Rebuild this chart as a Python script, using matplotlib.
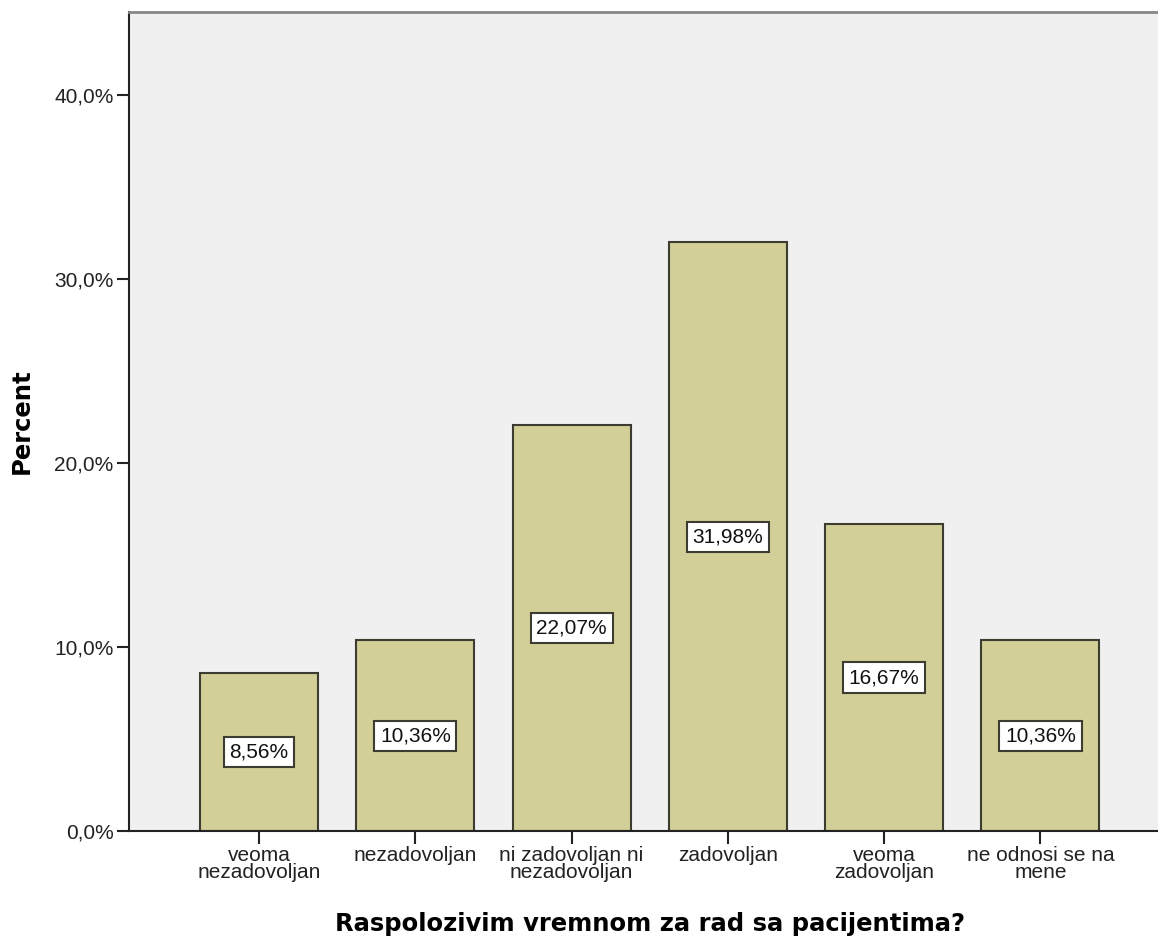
import numpy as np
from matplotlib import pyplot as plt

categories = ['veoma\nnezadovoljan', 'nezadovoljan', 'ni zadovoljan ni\nnezadovoljan',
              'zadovoljan', 'veoma\nzadovoljan', 'ne odnosi se na\nmene']
percents = [8.56, 10.36, 22.07, 31.98, 16.67, 10.36]
yticks = [0, 10, 20, 30, 40]
ytick_labels = ['0,0%', '10,0%', '20,0%', '30,0%', '40,0%']

fig = plt.figure(figsize=(11.58, 9.4), dpi=100)
ax = fig.add_axes([129/1158, 109/940, 1 - 129/1158, (831-12)/940])
ax.set_facecolor('#f0f0f0')

x = np.arange(len(categories))
ax.bar(x, percents, width=0.755, color='#d3cf99', edgecolor='#3c3c30', linewidth=1.5, zorder=2)

for xi, p in zip(x, percents):
    lab = ('%.2f%%' % p).replace('.', ',')
    ax.text(xi, p/2, lab, ha='center', va='center', fontsize=15, family='Liberation Sans',
            color='#111111', zorder=3,
            bbox=dict(boxstyle='square,pad=0.27', fc='white', ec='#3c3c30', lw=1.5))

ax.set_xlim(-0.832, 5.752)
ax.set_ylim(0, 44.5)
ax.set_xticks(x)
ax.set_xticklabels(categories, fontsize=15, family='Liberation Sans', linespacing=0.85, color='#222222')
ax.set_yticks(yticks)
ax.set_yticklabels(ytick_labels, fontsize=15, family='Liberation Sans', color='#222222')
ax.tick_params(axis='both', direction='out', length=9, width=1.5, color='#222222', pad=2)

ax.spines['right'].set_visible(False)
ax.spines['top'].set_color('#888888')
ax.spines['top'].set_linewidth(2)
for s in ['left', 'bottom']:
    ax.spines[s].set_linewidth(1.5)
    ax.spines[s].set_color('#222222')

ax.set_xlabel('Raspolozivim vremnom za rad sa pacijentima?', fontsize=17.5, fontweight='bold',
              family='DejaVu Sans', va='center')
ax.xaxis.set_label_coords(0.506, (831 - 924) / 819)
ax.set_ylabel('Percent', fontsize=17.5, fontweight='bold', family='DejaVu Sans', va='center')
ax.yaxis.set_label_coords((22 - 129) / 1029, 0.5)

fig.savefig('out.png', dpi=100)
